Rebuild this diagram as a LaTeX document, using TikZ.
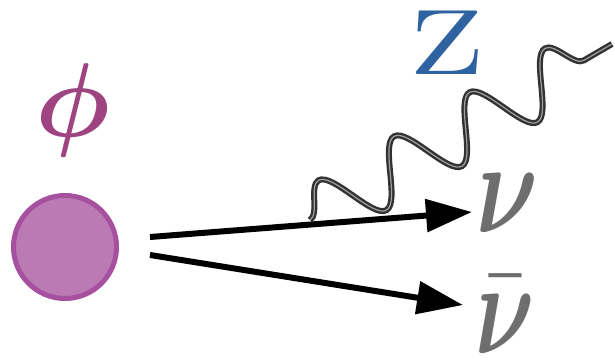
\documentclass[tikz,border=0pt]{standalone}
\usepackage{amsmath}
\usetikzlibrary{arrows.meta,decorations.pathmorphing}
\definecolor{phicol}{RGB}{158,68,128}
\definecolor{ballfill}{RGB}{188,122,180}
\definecolor{balledge}{RGB}{166,80,160}
\definecolor{zcol}{RGB}{46,98,160}
\definecolor{nucol}{RGB}{110,110,110}
\definecolor{wavecol}{RGB}{50,50,50}
\definecolor{wavelite}{RGB}{160,160,160}
\begin{document}
\begin{tikzpicture}[x=1pt,y=1pt,
  ball/.style={circle, fill=ballfill, draw=balledge, line width=5pt, minimum size=103pt, inner sep=0pt},
  lbl/.style={inner sep=0pt},
  arr/.style={line width=6pt, -{Triangle[length=46pt,width=32pt]}},
  wavesnake/.style={decorate, decoration={snake, segment length=87.4pt, amplitude=30pt}}]
\useasboundingbox (0,0) rectangle (615,359);
\node[ball] (phi) at (65,112) {};
\node[lbl, text=phicol, scale=10.5] (philbl) at (73,249) {$\boldsymbol{\phi}$};
\node[lbl, text=zcol, xscale=12.3, yscale=9.3] (zlbl) at (447,316) {Z};
\node[lbl, text=nucol, xscale=9.6, yscale=13.2, anchor=base] (nu) at (507,127) {$\boldsymbol{\nu}$};
\node[lbl, text=nucol, xscale=9.2, yscale=13.2, anchor=base] (nubar) at (505,6) {$\bar{\boldsymbol{\nu}}$};
\coordinate (ws) at (310,139);
\coordinate (we) at (612,315);
\coordinate (a1s) at (150,122);
\coordinate (a1e) at (472,147);
\coordinate (a2s) at (150,104);
\coordinate (a2e) at (463,54);
\draw[wavesnake, draw=wavecol, line width=6pt] (ws) -- (we);
\draw[wavesnake, draw=wavelite, line width=1.2pt] (ws) -- (we);
\draw[arr] (a1s) -- (a1e);
\draw[arr] (a2s) -- (a2e);
\end{tikzpicture}
\end{document}
